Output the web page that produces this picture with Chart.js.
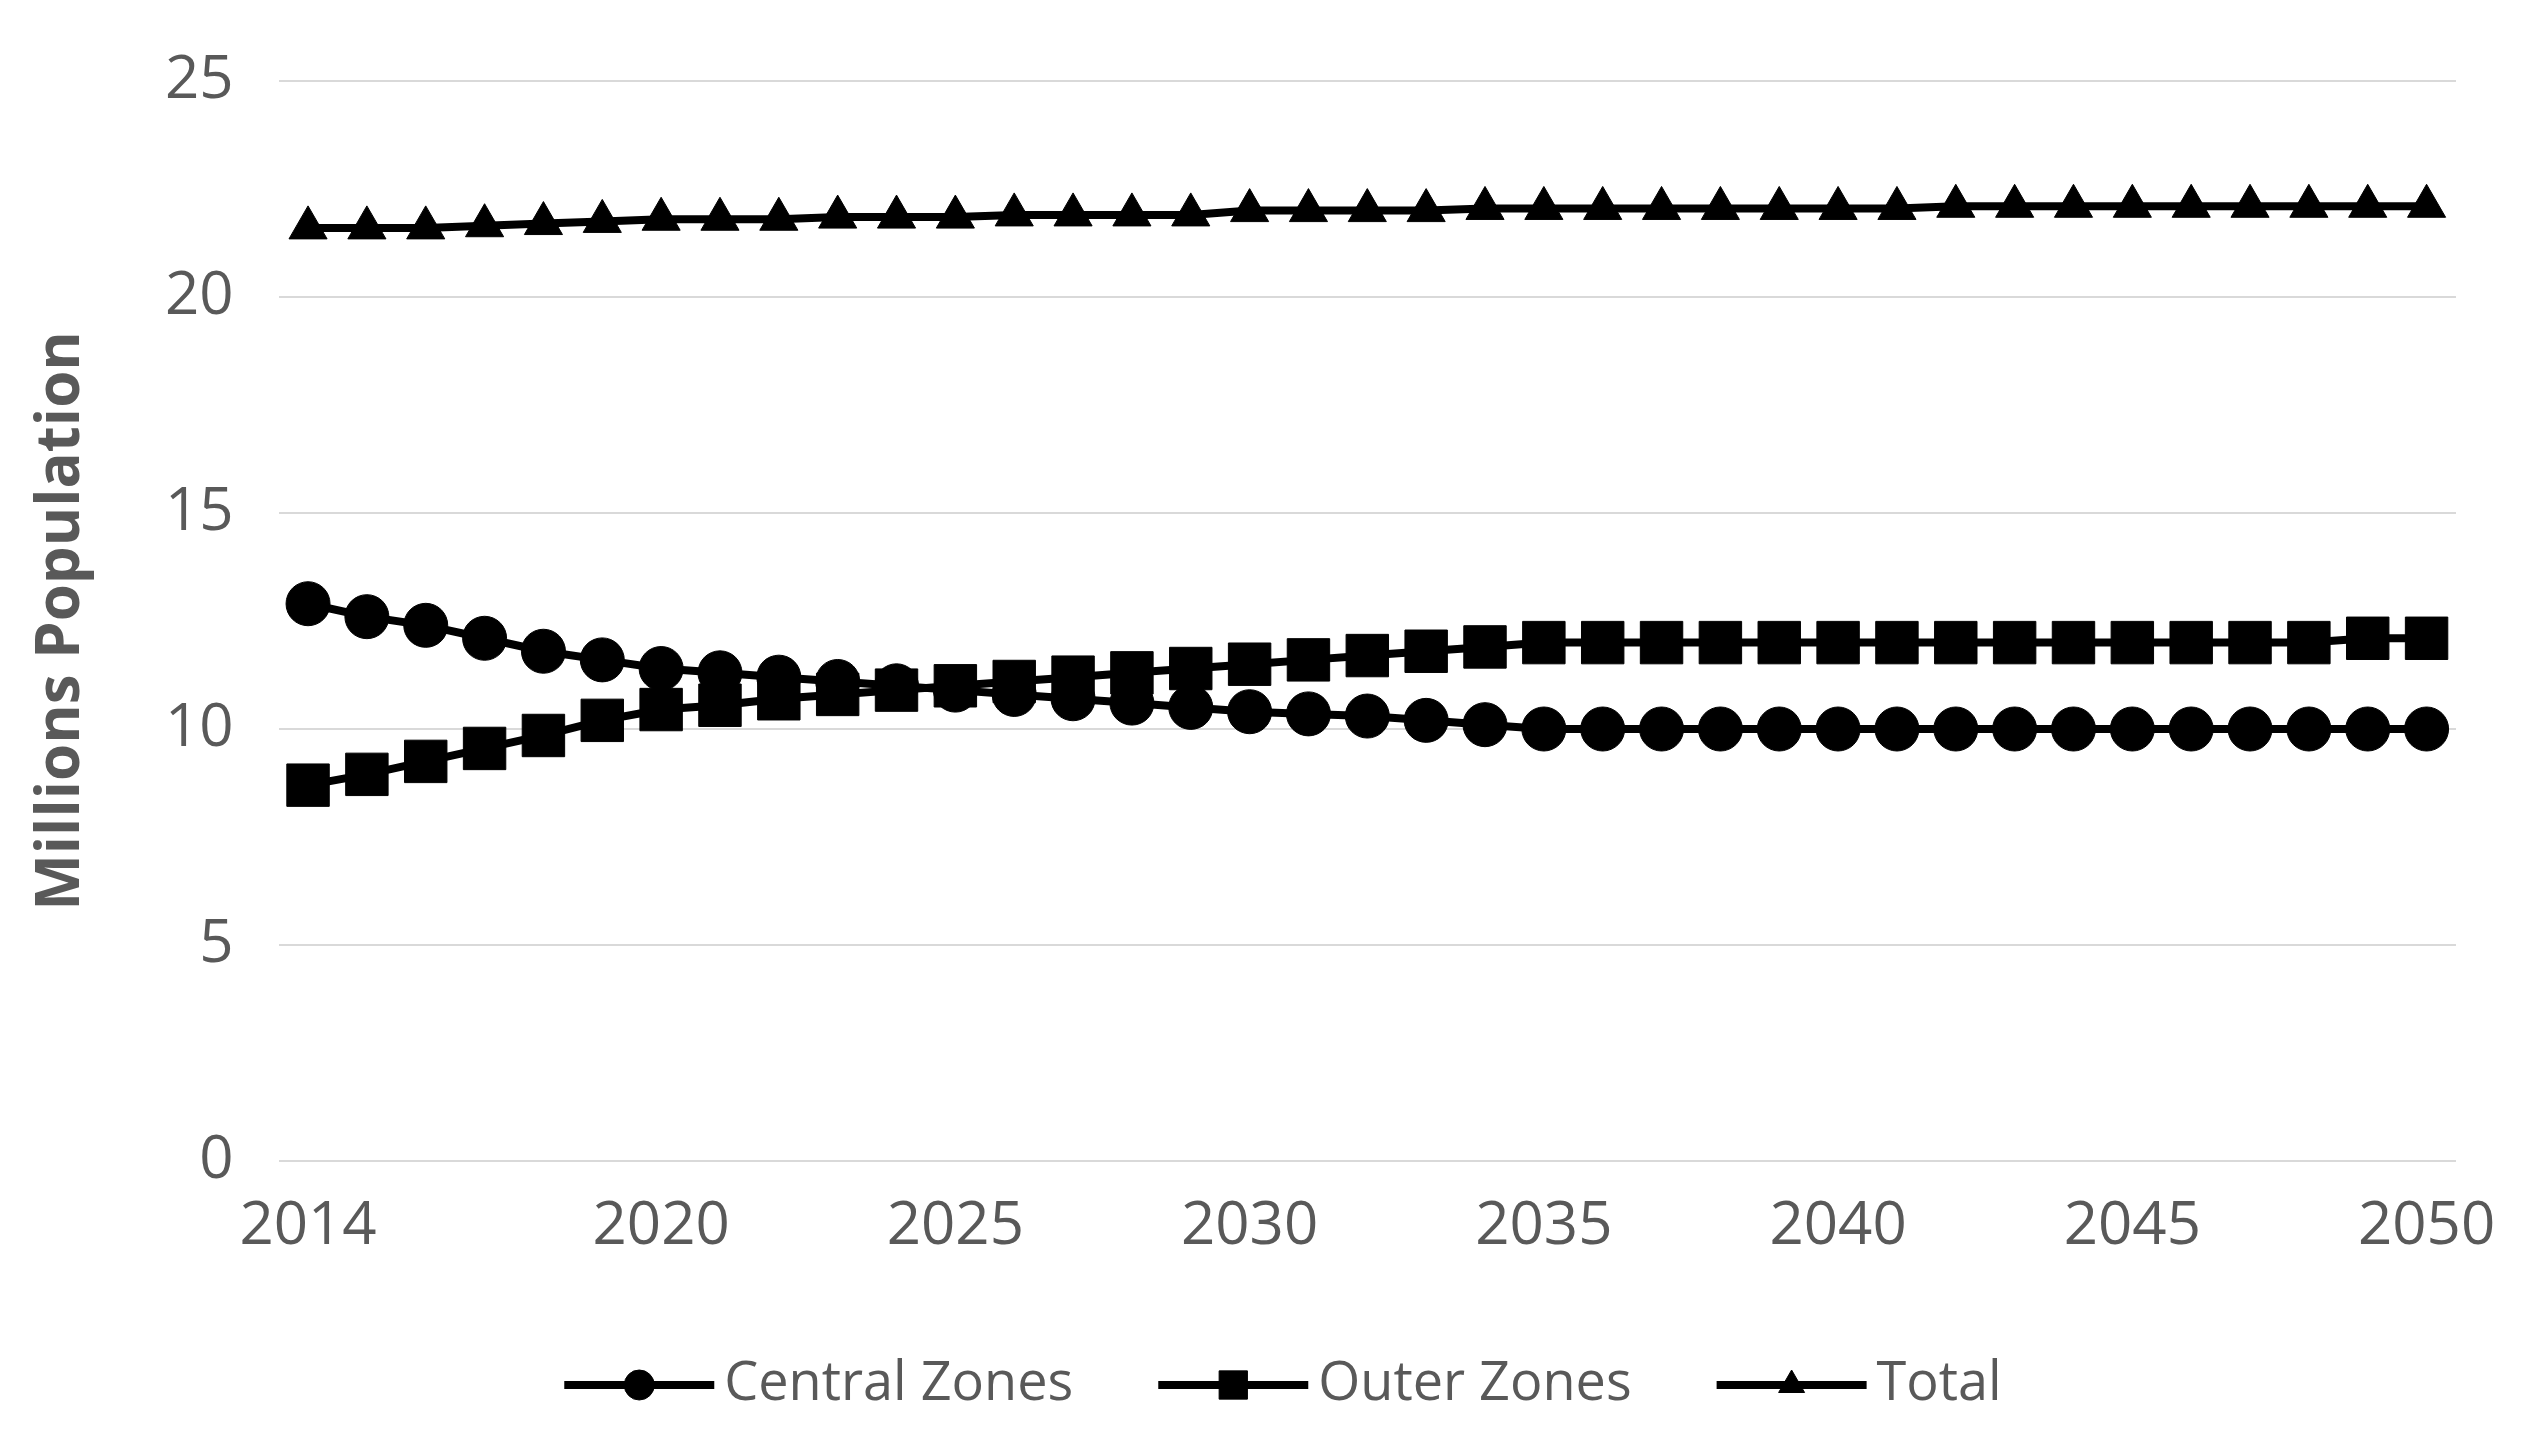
<!DOCTYPE html>
<html><head><meta charset="utf-8">
<script src="https://cdn.jsdelivr.net/npm/chart.js@4"></script>
<style>html,body{margin:0;padding:0;background:#fff;overflow:hidden}</style>
</head><body>
<canvas id="c" width="2526" height="1438"></canvas>
<script>
const years = [];
for (let y = 2014; y <= 2050; y++) years.push(String(y));
const shownYears = ['2014','2020','2025','2030','2035','2040','2045','2050'];
const central = [12.9,12.6,12.4,12.1,11.8,11.6,11.4,11.3,11.2,11.1,11.0,10.9,10.8,10.7,10.6,10.5,10.4,10.35,10.3,10.2,10.1,10.0,10.0,10.0,10.0,10.0,10.0,10.0,10.0,10.0,10.0,10.0,10.0,10.0,10.0,10.0,10.0];
const outer = [8.7,8.95,9.25,9.55,9.85,10.2,10.45,10.55,10.7,10.8,10.9,11.0,11.1,11.2,11.3,11.4,11.5,11.6,11.7,11.8,11.9,12.0,12.0,12.0,12.0,12.0,12.0,12.0,12.0,12.0,12.0,12.0,12.0,12.0,12.0,12.1,12.1];
const total = [21.6,21.6,21.6,21.65,21.7,21.75,21.8,21.8,21.8,21.85,21.85,21.85,21.9,21.9,21.9,21.9,22.0,22.0,22.0,22.0,22.05,22.05,22.05,22.05,22.05,22.05,22.05,22.05,22.1,22.1,22.1,22.1,22.1,22.1,22.1,22.1,22.1];
const yTicks = [0,5,10,15,20,25];
const seriesNames = ['Central Zones','Outer Zones','Total'];
const styles = ['circle','rect','triangle'];
const radii = [22,30,22];

const FONT = "'Open Sans', sans-serif";
const GRAY = '#595959';

const legendPlugin = {
  id: 'lineLegend',
  afterDraw(chart) {
    const ctx = chart.ctx;
    ctx.save();
    ctx.font = `54px ${FONT}`;
    ctx.textBaseline = 'middle';
    const y = 1385;
    const lineW = 150, gap = 10, spacing = 85;
    const widths = seriesNames.map(n => lineW + gap + ctx.measureText(n).width);
    const totalW = widths.reduce((a,b)=>a+b,0) + spacing*(widths.length-1);
    let x = (2526 - totalW)/2 + 20;
    seriesNames.forEach((n,i) => {
      ctx.strokeStyle = '#000'; ctx.fillStyle = '#000'; ctx.lineWidth = 8;
      ctx.beginPath(); ctx.moveTo(x, y); ctx.lineTo(x+lineW, y); ctx.stroke();
      ctx.lineWidth = 1;
      Chart.helpers.drawPoint(ctx, {pointStyle: styles[i], radius: i === 1 ? 20 : 15, borderWidth: 1}, x+lineW/2, y);
      ctx.fillStyle = GRAY;
      ctx.fillText(n, x+lineW+gap, y);
      x += widths[i] + spacing;
    });
    ctx.restore();
  }
};

const mk = (label, data, i) => ({
  label, data,
  borderColor: '#000', backgroundColor: '#000',
  borderWidth: 8, pointStyle: styles[i], pointRadius: radii[i],
  pointBackgroundColor: '#000', pointBorderColor: '#000', pointBorderWidth: 1,
  tension: 0
});

new Chart(document.getElementById('c'), {
  type: 'line',
  data: { labels: years, datasets: [mk(seriesNames[0], central, 0), mk(seriesNames[1], outer, 1), mk(seriesNames[2], total, 2)] },
  options: {
    responsive: false, animation: false, devicePixelRatio: 1,
    layout: { padding: { top: 0, right: 60, bottom: 145, left: 22 } },
    plugins: { legend: { display: false }, tooltip: { enabled: false } },
    scales: {
      x: {
        offset: true,
        grid: { display: false, drawTicks: false },
        border: { display: false },
        ticks: {
          autoSkip: false, maxRotation: 0, color: GRAY, padding: 30,
          font: { family: FONT, size: 60 },
          callback(v) { const l = years[v]; return shownYears.includes(l) ? l : ''; }
        }
      },
      y: {
        min: 0, max: 25,
        afterBuildTicks(ax) { ax.ticks = yTicks.map(v => ({ value: v })); },
        grid: { color: '#d9d9d9', lineWidth: 2, drawTicks: false },
        border: { display: false },
        ticks: { color: GRAY, padding: 45, font: { family: FONT, size: 60 } },
        title: { display: true, text: 'Millions Population', color: GRAY, padding: { bottom: 22 },
          font: { family: FONT, size: 60, weight: 'bold' } }
      }
    }
  },
  plugins: [legendPlugin]
});
</script>
</body></html>
